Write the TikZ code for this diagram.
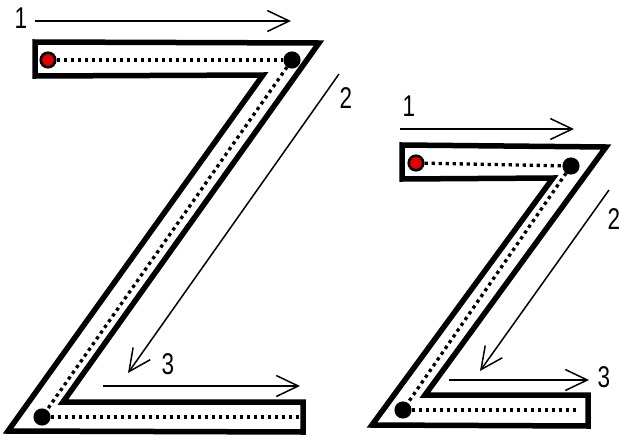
\documentclass[tikz,border=0pt]{standalone}
\usepackage{fontspec}
\setmainfont{Liberation Sans}
\usetikzlibrary{arrows.meta}
\begin{document}
\begin{tikzpicture}[x=1pt,y=-1pt,
 outline/.style={line width=5.5pt,line join=miter},
 guide/.style={line width=3.3pt,dash pattern=on 3.3pt off 3.7pt},
 dotnode/.style={circle,draw=black,line width=2.6pt,minimum size=14.5pt,inner sep=0pt,fill=black},
 startdot/.style={dotnode,fill=red!90!black},
 arr/.style={line width=1.5pt,-{Straight Barb[length=22pt,width=21pt,line width=1.5pt]}},
 num/.style={font=\fontsize{30}{30}\selectfont,inner sep=0pt,xscale=0.75}]
\useasboundingbox (0,0) rectangle (619,437);
% ---------- big Z ----------
\draw[outline] (35,42) -- (319,43) -- (63,402) -- (303,402) -- (303,432) -- (8,431) -- (263,75) -- (35,76) -- cycle;
\node[startdot] (bs) at (48,60) {};
\node[dotnode] (bt) at (292,60) {};
\node[dotnode] (bb) at (42,417) {};
\coordinate (be) at (300,417);
\draw[guide] (bs) -- (bt);
\draw[guide] (bt) -- (bb);
\draw[guide] (bb) -- (be);
\coordinate (a1s) at (35,21); \coordinate (a1e) at (291,21);
\coordinate (a2s) at (339,74); \coordinate (a2e) at (128,373);
\coordinate (a3s) at (103,386); \coordinate (a3e) at (300,386);
\draw[arr] (a1s) -- (a1e);
\draw[arr] (a2s) -- (a2e);
\draw[arr] (a3s) -- (a3e);
\node[num] (n1) at (21,18) {1};
\node[num] (n2) at (346,98) {2};
\node[num] (n3) at (168,364) {3};
% ---------- small Z ----------
\draw[outline] (402,145) -- (606,147) -- (425,395) -- (588,395) -- (588,426) -- (372,425) -- (553,178) -- (402,179) -- cycle;
\node[startdot] (ss) at (416,163) {};
\node[dotnode] (st) at (571,166) {};
\node[dotnode] (sb) at (403,410) {};
\coordinate (se) at (578,410);
\draw[guide] (ss) -- (st);
\draw[guide] (st) -- (sb);
\draw[guide] (sb) -- (se);
\coordinate (b1s) at (400,129); \coordinate (b1e) at (574,129);
\coordinate (b2s) at (609,190); \coordinate (b2e) at (480,371);
\coordinate (b3s) at (449,380); \coordinate (b3e) at (589,380);
\draw[arr] (b1s) -- (b1e);
\draw[arr] (b2s) -- (b2e);
\draw[arr] (b3s) -- (b3e);
\node[num] (m1) at (409,106) {1};
\node[num] (m2) at (614,219) {2};
\node[num] (m3) at (604,377) {3};
\end{tikzpicture}
\end{document}
